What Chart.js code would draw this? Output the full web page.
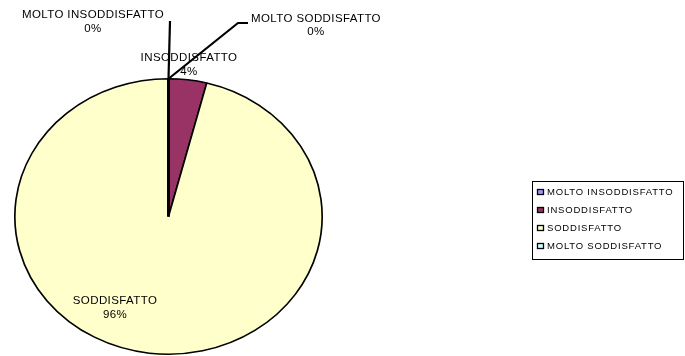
<!DOCTYPE html>
<html>
<head>
<meta charset="utf-8">
<script src="https://cdn.jsdelivr.net/npm/chart.js@4.4.0/dist/chart.umd.min.js"></script>
<style>
  html, body { margin: 0; padding: 0; background: #fff; }
  #wrap { position: relative; width: 685px; height: 356px; }
</style>
</head>
<body>
<div id="wrap"><canvas id="pie" width="685" height="356"></canvas></div>
<script>
// dati del grafico
const categories = ['MOLTO INSODDISFATTO', 'INSODDISFATTO', 'SODDISFATTO', 'MOLTO SODDISFATTO'];
const values = [0, 4, 96, 0];
const percentLabels = ['0%', '4%', '96%', '0%'];
const colors = ['#9999FF', '#993366', '#FFFFCC', '#CCFFFF'];

// posizione delle etichette (centro testo, prima riga) e gomiti delle linee guida
const labelPos = [
  { x: 93, y: 15, leader: [[170, 21]] },
  { x: 189, y: 58, leader: null },
  { x: 115, y: 301, leader: null },
  { x: 316, y: 18.5, leader: [[238, 23], [248, 23]] }
];

const FONT = '11.5px "Liberation Sans", Arial, sans-serif';

// schiaccia il cerchio in un'ellisse (come il grafico Excel)
const ellipsePlugin = {
  id: 'ellipse',
  beforeDatasetsDraw(chart) {
    const a = chart.chartArea;
    const cx = (a.left + a.right) / 2, cy = (a.top + a.bottom) / 2;
    const kx = a.width / a.height;
    const ctx = chart.ctx;
    ctx.save();
    ctx.translate(cx, cy);
    ctx.scale(kx, 1);
    ctx.translate(-cx, -cy);
  },
  afterDatasetsDraw(chart) {
    const ctx = chart.ctx;
    ctx.restore();
    const a = chart.chartArea;
    const kx = a.width / a.height;
    const arcs = chart.getDatasetMeta(0).data;

    // punto sul bordo dell'ellisse per un angolo
    const edge = (arc, ang) => ({
      x: arc.x + Math.cos(ang) * arc.outerRadius * kx,
      y: arc.y + Math.sin(ang) * arc.outerRadius
    });

    ctx.save();
    ctx.strokeStyle = '#000';
    ctx.lineCap = 'butt';
    // fette a zero: solo il raggio
    arcs.forEach((arc, i) => {
      if (values[i] !== 0) return;
      const p = edge(arc, arc.startAngle);
      ctx.lineWidth = 2.8;
      ctx.beginPath();
      ctx.moveTo(arc.x, arc.y);
      ctx.lineTo(p.x, p.y);
      ctx.stroke();
    });
    // linee guida
    arcs.forEach((arc, i) => {
      const lp = labelPos[i];
      if (!lp.leader) return;
      const mid = (arc.startAngle + arc.endAngle) / 2;
      const p = edge(arc, mid);
      ctx.lineWidth = 2.2;
      ctx.beginPath();
      ctx.moveTo(p.x, p.y);
      lp.leader.forEach(pt => ctx.lineTo(pt[0], pt[1]));
      ctx.stroke();
    });
    // etichette
    ctx.fillStyle = '#000';
    ctx.font = FONT;
    ctx.letterSpacing = '0.4px';
    ctx.textAlign = 'center';
    ctx.textBaseline = 'middle';
    arcs.forEach((arc, i) => {
      const lp = labelPos[i];
      ctx.fillText(categories[i], lp.x, lp.y);
      ctx.fillText(percentLabels[i], lp.x, lp.y + 13.5);
    });
    ctx.restore();
  },
  afterDraw(chart) {
    // legenda a destra
    const ctx = chart.ctx;
    const box = { x: 532.5, y: 181.5, w: 151, h: 78 };
    ctx.save();
    ctx.strokeStyle = '#000';
    ctx.lineWidth = 1;
    ctx.strokeRect(box.x, box.y, box.w, box.h);
    ctx.font = '9.5px "Liberation Sans", Arial, sans-serif';
    ctx.letterSpacing = '0.8px';
    ctx.textBaseline = 'middle';
    ctx.textAlign = 'left';
    categories.forEach((c, i) => {
      const y = Math.round(192 + i * 18);
      ctx.fillStyle = colors[i];
      ctx.fillRect(537, y - 3, 7, 6);
      ctx.strokeStyle = '#000';
      ctx.lineWidth = 1.3;
      ctx.strokeRect(537.5, y - 2.5, 6, 5);
      ctx.fillStyle = '#000';
      ctx.fillText(c, 547, y + 0.5);
    });
    ctx.restore();
  }
};

new Chart(document.getElementById('pie'), {
  type: 'pie',
  data: {
    labels: categories,
    datasets: [{
      data: values,
      backgroundColor: colors,
      borderColor: '#000',
      borderWidth: 1.5,
      clip: false
    }]
  },
  options: {
    responsive: false,
    animation: false,
    events: [],
    layout: { padding: { left: 14, right: 362, top: 78, bottom: 1 } },
    plugins: { legend: { display: false }, tooltip: { enabled: false } }
  },
  plugins: [ellipsePlugin]
});
</script>
</body>
</html>
